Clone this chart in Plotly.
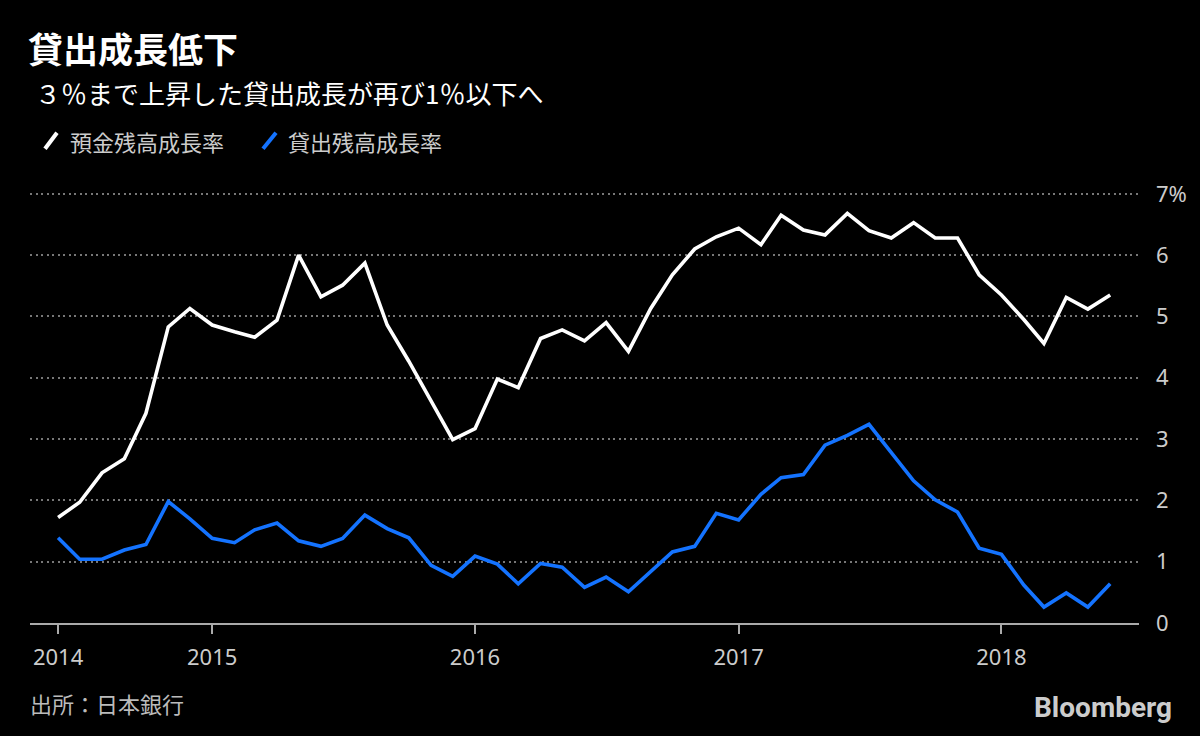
import pandas as pd
import plotly.graph_objects as go

# Monthly data, June 2014 - June 2018 (Bank of Japan)
months = pd.date_range("2014-06-01", periods=49, freq="MS")

deposit_growth = [
    1.72, 1.97, 2.45, 2.68, 3.42, 4.83, 5.13, 4.86, 4.75, 4.66,
    4.94, 6.00, 5.32, 5.51, 5.87, 4.86, 4.27, 3.61, 2.99, 3.17,
    3.98, 3.84, 4.64, 4.78, 4.60, 4.90, 4.43, 5.13, 5.68, 6.10,
    6.30, 6.44, 6.17, 6.65, 6.41, 6.33, 6.68, 6.40, 6.28, 6.53,
    6.28, 6.28, 5.68, 5.35, 4.95, 4.56, 5.31, 5.12, 5.35,
]
loan_growth = [
    1.39, 1.04, 1.04, 1.19, 1.28, 1.98, 1.70, 1.38, 1.31, 1.52,
    1.63, 1.34, 1.25, 1.38, 1.76, 1.54, 1.39, 0.94, 0.76, 1.09,
    0.96, 0.64, 0.97, 0.91, 0.58, 0.75, 0.51, 0.85, 1.16, 1.25,
    1.79, 1.68, 2.10, 2.37, 2.42, 2.90, 3.06, 3.24, 2.78, 2.32,
    2.01, 1.81, 1.22, 1.12, 0.62, 0.26, 0.49, 0.26, 0.64,
]

x_tick_vals = ["2014-06-01", "2015-01-01", "2016-01-01", "2017-01-01", "2018-01-01"]
x_tick_text = ["2014", "2015", "2016", "2017", "2018"]
y_tick_vals = [0, 1, 2, 3, 4, 5, 6, 7]
y_tick_text = ["0", "1", "2", "3", "4", "5", "6", "7%"]

names = ["預金残高成長率", "貸出残高成長率"]
colors = ["#ffffff", "#1473ff"]

CJK = "Noto Sans CJK JP"

# plot area in pixels, used to place header/footer items
L, R, T, B = 30, 1139, 192.2, 622.7


def px(x):
    return (x - L) / (R - L)


def py(y):
    return (B - y) / (B - T)


fig = go.Figure()
for vals, name, col in zip([deposit_growth, loan_growth], names, colors):
    fig.add_trace(go.Scatter(
        x=months, y=vals, name=name, mode="lines",
        line=dict(color=col, width=3.6), showlegend=False,
    ))

fig.update_layout(
    width=1200, height=736,
    paper_bgcolor="#000000", plot_bgcolor="#000000",
    margin=dict(l=L, r=1200 - R, t=T, b=736 - B),
    font=dict(family=CJK, color="#cccccc"),
    xaxis=dict(
        range=["2014-04-23", "2018-07-11"],
        tickvals=x_tick_vals, ticktext=x_tick_text,
        showgrid=False, zeroline=False,
        showline=True, linecolor="#aaaaaa", linewidth=2,
        ticks="outside", ticklen=9, tickwidth=1.5, tickcolor="#aaaaaa",
        tickfont=dict(family="Liberation Sans Narrow, Noto Sans", size=22, color="#cccccc"),
        ticklabelstandoff=5,
    ),
    yaxis=dict(
        range=[0, 7.03], side="right",
        tickvals=y_tick_vals, ticktext=y_tick_text,
        showgrid=True, gridcolor="#777777", gridwidth=2, griddash="2px,3.5px",
        zeroline=False, ticks="",
        tickfont=dict(family="Noto Sans", size=22, color="#cccccc"),
        ticklabelstandoff=16,
    ),
)

annotations = [
    dict(text="<b>貸出成長低下</b>", x=px(26), y=py(48), size=35, color="#ffffff"),
    dict(text="３％まで上昇した貸出成長が再び1％以下へ", x=px(33), y=py(93), size=26, color="#ffffff"),
    dict(text=names[0], x=px(68), y=py(141), size=22, color="#cccccc"),
    dict(text=names[1], x=px(286), y=py(141), size=22, color="#cccccc"),
    dict(text="出所：日本銀行", x=px(28), y=py(703), size=22, color="#bbbbbb"),
]
for a in annotations:
    fig.add_annotation(
        text=a["text"], x=a["x"], y=a["y"], xref="paper", yref="paper",
        xanchor="left", yanchor="middle", showarrow=False,
        font=dict(family=CJK, size=a["size"], color=a["color"]),
    )

fig.add_annotation(
    text="<b>Bloomberg</b>", x=px(1174), y=py(707), xref="paper", yref="paper",
    xanchor="right", yanchor="middle", showarrow=False,
    font=dict(family="Liberation Sans Narrow, Roboto", size=28, color="#cccccc"),
)

# slash-shaped legend keys
for (x0, x1), col in zip([(45, 57), (263, 276)], colors):
    fig.add_shape(
        type="line", xref="paper", yref="paper",
        x0=px(x0), y0=py(149), x1=px(x1), y1=py(133),
        line=dict(color=col, width=4),
    )

# drop the browser's default page margin so the figure sits at 0,0
fig.write_html(
    "out.html",
    config={"displayModeBar": False},
    post_script="document.body.style.margin='0';",
)
